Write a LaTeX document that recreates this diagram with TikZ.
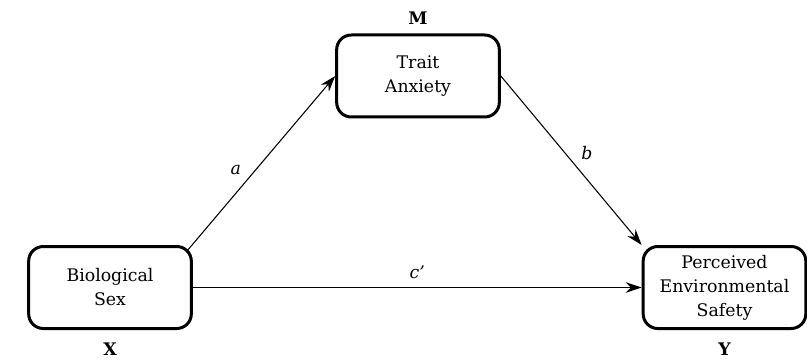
\documentclass[tikz,border=0pt]{standalone}
\usepackage{fontspec}
\setmainfont{DejaVu Serif}
\usetikzlibrary{arrows.meta,positioning,calc}

\begin{document}
\begin{tikzpicture}[x=0.75pt, y=-0.75pt,
  box/.style={draw, line width=2.25pt, rounded corners=11pt, minimum width=122pt, minimum height=61.5pt, align=center, font=\fontsize{13}{18}\selectfont},
  lbl/.style={font=\fontsize{13}{15}\selectfont\bfseries},
  coef/.style={font=\fontsize{13}{15}\selectfont\itshape},
  arr/.style={-{Stealth[length=12pt, width=8pt, inset=4pt]}, line width=0.8pt}
]
  \useasboundingbox (0,0) rectangle (807,360);

  \node[box] (sex) at (110,287.5) {Biological\\Sex};
  \node[box] (anxiety) at (418,76) {Trait\\Anxiety};
  \node[box] (safety) at (724.5,287.5) {Perceived\\Environmental\\Safety};

  \node[lbl, below=6pt of sex] (xlbl) {X};
  \node[lbl, above=3pt of anxiety] (mlbl) {M};
  \node[lbl, below=6pt of safety] (ylbl) {Y};

  \coordinate (astart) at ($(sex.north east)+(-5,5)$);
  \draw[arr] (astart) -- (anxiety.west) node[coef, pos=0.4, above left=1pt] (apath) {a};
  \draw[arr] (anxiety.east) -- (safety.north west) node[coef, pos=0.53, above right=1pt] (bpath) {b};
  \draw[arr] (sex.east) -- (safety.west) node[coef, pos=0.5, above=3pt] (cpath) {c’};
\end{tikzpicture}
\end{document}
